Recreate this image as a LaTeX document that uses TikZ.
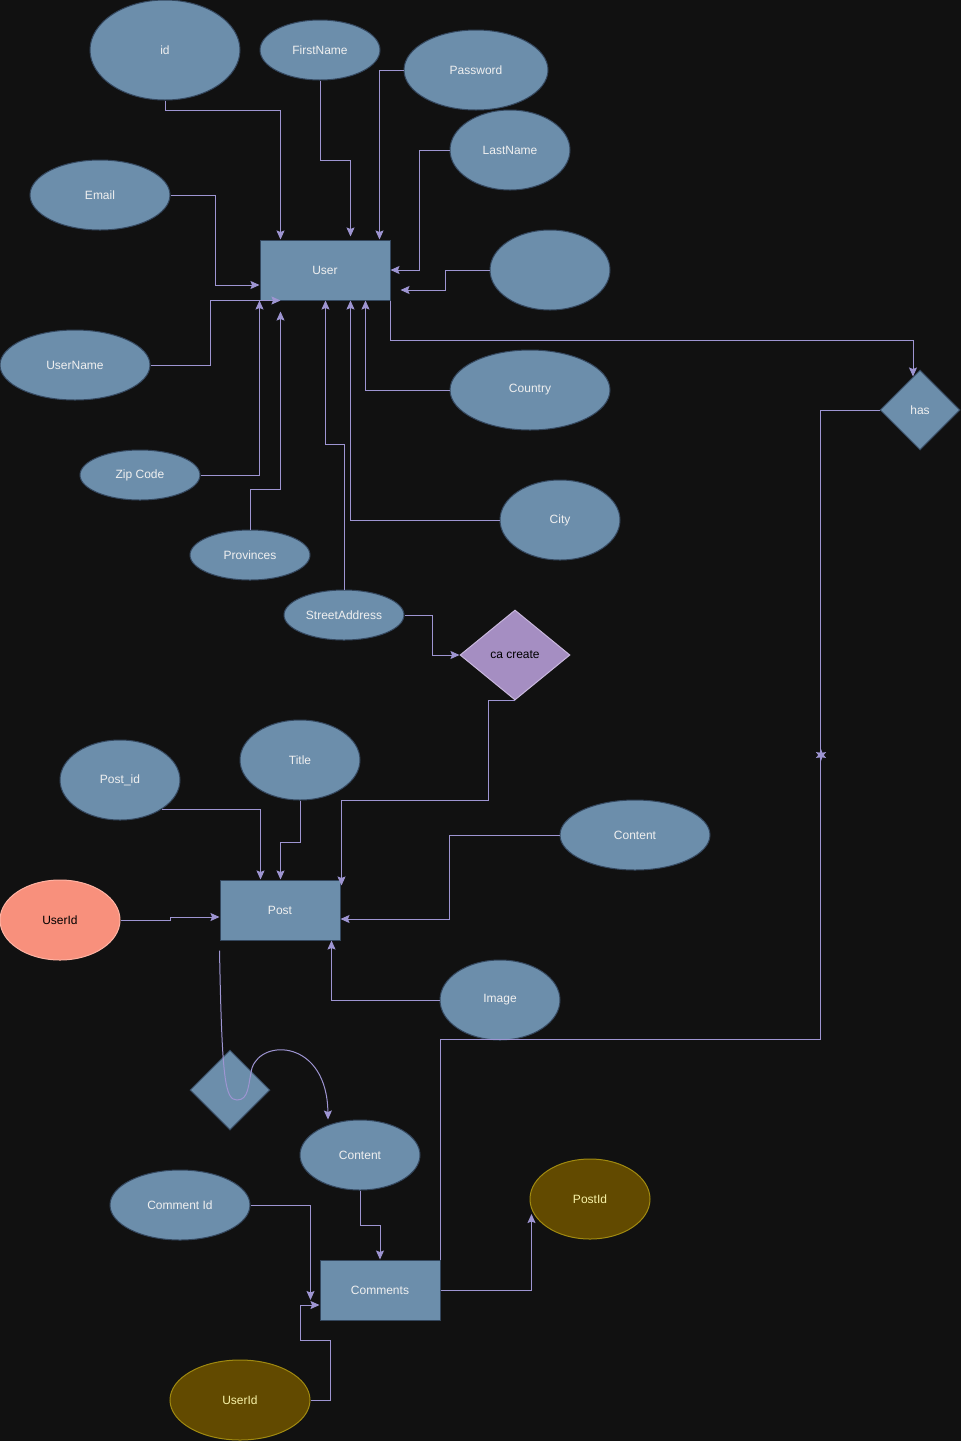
\documentclass[tikz,border=0pt]{standalone}
\usepackage{fontspec}
\setmainfont{Liberation Sans}
\usepackage{xcolor}
\usepackage{tikz}
\usetikzlibrary{arrows.meta, shapes.geometric, positioning, calc}

\definecolor{nennen}{HTML}{111111}
\definecolor{nenxanh}{HTML}{6C8EAB}
\definecolor{vienxanh}{HTML}{34475E}
\definecolor{chutrang}{HTML}{F0F0F0}
\definecolor{mautim}{HTML}{9E95D2}
\definecolor{nentim}{HTML}{A58EC2}
\definecolor{vientim}{HTML}{C9B8DE}
\definecolor{nencam}{HTML}{F8907C}
\definecolor{viencam}{HTML}{FFB3A3}
\definecolor{nenvang}{HTML}{624A00}
\definecolor{vienvang}{HTML}{A08A10}
\definecolor{chuvang}{HTML}{F8F3A8}

\tikzset{
    attr/.style={ellipse, draw=vienxanh, fill=nenxanh, text=chutrang, inner sep=0pt, line width=1pt},
    entity/.style={rectangle, draw=vienxanh, fill=nenxanh, text=chutrang, minimum height=60pt, line width=1pt},
    rel/.style={diamond, draw=vienxanh, fill=nenxanh, text=chutrang, inner sep=0pt, minimum width=80pt, minimum height=80pt, line width=1pt},
    conn/.style={draw=mautim, line width=1pt},
}

\begin{document}
\begin{tikzpicture}[x=1pt, y=-1pt, >={Stealth[length=9pt, width=8pt, inset=1.5pt]}, font=\fontsize{12}{14}\selectfont]
    % Nền tối
    \useasboundingbox[fill=nennen] (0,0) rectangle (961,1441);

    % Thực thể User và các thuộc tính
    \node[entity, minimum width=130pt] (user) at (325,270) {User};
    \node[attr, minimum width=150pt, minimum height=100pt] (id) at (165,50) {id};
    \node[attr, minimum width=120pt, minimum height=60pt] (fname) at (320,50) {FirstName};
    \node[attr, minimum width=144pt, minimum height=80pt] (pass) at (476,70) {Password};
    \node[attr, minimum width=120pt, minimum height=80pt] (lname) at (510,150) {LastName};
    \node[attr, minimum width=140pt, minimum height=70pt] (email) at (100,195) {Email};
    \node[attr, minimum width=120pt, minimum height=80pt] (blank) at (550,270) {};
    \node[attr, minimum width=150pt, minimum height=70pt] (uname) at (75,365) {UserName};
    \node[attr, minimum width=160pt, minimum height=80pt] (country) at (530,390) {Country};
    \node[attr, minimum width=120pt, minimum height=50pt] (zip) at (140,475) {Zip Code};
    \node[attr, minimum width=120pt, minimum height=80pt] (city) at (560,520) {City};
    \node[attr, minimum width=120pt, minimum height=50pt] (prov) at (250,555) {Provinces};
    \node[attr, minimum width=120pt, minimum height=50pt] (street) at (344,615) {StreetAddress};

    % Các quan hệ
    \node[rel] (has) at (920,410) {has};
    \node[rel, draw=vientim, fill=nentim, text=black, aspect=1.22, minimum width=110pt, minimum height=90pt] (cacreate) at (515,655) {ca create};
    \node[rel] (rel2) at (230,1090) {};

    % Thực thể Post và các thuộc tính
    \node[entity, minimum width=120pt] (post) at (280,910) {Post};
    \node[attr, minimum width=120pt, minimum height=80pt] (postid) at (120,780) {Post\_id};
    \node[attr, minimum width=120pt, minimum height=80pt] (title) at (300,760) {Title};
    \node[attr, minimum width=150pt, minimum height=70pt] (content) at (635,835) {Content};
    \node[attr, draw=viencam, fill=nencam, text=black, minimum width=120pt, minimum height=80pt] (userid) at (60,920) {UserId};
    \node[attr, minimum width=120pt, minimum height=80pt] (image) at (500,1000) {Image};

    % Thực thể Comments và các thuộc tính
    \node[entity, minimum width=120pt] (comments) at (380,1290) {Comments};
    \node[attr, minimum width=120pt, minimum height=70pt] (ccontent) at (360,1155) {Content};
    \node[attr, minimum width=140pt, minimum height=70pt] (commentid) at (180,1205) {Comment Id};
    \node[attr, draw=vienvang, fill=nenvang, text=chuvang, minimum width=120pt, minimum height=80pt] (cpostid) at (590,1199) {PostId};
    \node[attr, draw=vienvang, fill=nenvang, text=chuvang, minimum width=140pt, minimum height=80pt] (cuserid) at (240,1400) {UserId};

    % Nối thuộc tính vào User
    \draw[conn, ->] (id.south) -- ++(0,10) -| ([xshift=21pt]user.north west);
    \draw[conn, ->] (fname.south) -- ++(0,80) -| ([xshift=91pt, yshift=3pt]user.north west);
    \draw[conn, ->] (pass.west) -| ([xshift=120pt]user.north west);
    \draw[conn, ->] (lname.west) -- ++(-30,0) |- (user.east);
    \draw[conn, ->] (blank.west) -- ++(-44,0) |- ([xshift=10pt, yshift=-20pt]user.east);
    \draw[conn, ->] (email.east) -- ++(45,0) |- ([yshift=-15pt]user.west);
    \draw[conn, ->] (uname.east) -- ++(60,0) |- ([xshift=21pt]user.south west);
    \draw[conn, ->] (zip.east) -| (user.south west);
    \draw[conn, ->] (prov.north) -- ++(0,-40) -| ([xshift=21pt, yshift=-11pt]user.south west);
    \draw[conn, ->] (street.north) -- ++(0,-145) -| ([xshift=66pt]user.south west);
    \draw[conn, ->] (city.west) -| ([xshift=91pt]user.south west);
    \draw[conn, ->] (country.west) -| ([xshift=106pt]user.south west);

    % User -- has -- Comments
    \draw[conn, ->] (user.south east) -- ++(0,40) -| ([xshift=-7pt, yshift=-7pt]has.north);
    \draw[conn] (comments.north east) -- ++(0,-220) -| ([xshift=-59pt]has.west) -- (has.west);
    \node[star, star points=6, star point ratio=2.2, fill=mautim, inner sep=0pt, minimum size=12pt] (dau) at (821,755) {};

    % StreetAddress -- ca create -- Post
    \draw[conn, ->] (street.east) -- ++(28,0) |- (cacreate.west);
    \draw[conn, ->] (cacreate.south) -- ++(-27,0) -- ++(0,100) -| ([xshift=1pt, yshift=-6pt]post.north east);

    % Nối thuộc tính vào Post
    \draw[conn, ->] (postid.-35) -| ([xshift=41pt]post.north west);
    \draw[conn, ->] (title.south) -- ++(0,42) -| ([xshift=61pt]post.north west);
    \draw[conn, ->] (content.west) -- ++(-110,0) |- ([yshift=-9pt]post.east);
    \draw[conn, ->] (userid.east) -- ++(50,0) |- ([yshift=-7pt]post.west);
    \draw[conn, ->] (image.west) -| ([xshift=-9pt]post.south east);

    % Đường cong từ Post xuống Content
    \draw[conn, ->] ([yshift=-10pt]post.south west) .. controls (222,1080) and (225,1100) .. (237,1100)
        .. controls (249,1100) and (248,1085) .. (252,1068)
        .. controls (262,1038) and (327,1040) .. ([xshift=-32pt]ccontent.north);

    % Nối thuộc tính vào Comments
    \draw[conn, ->] (ccontent.south) -- ++(0,35) -| (comments.north);
    \draw[conn, ->] (commentid.east) -| ([xshift=-9pt, yshift=-10pt]comments.west);
    \draw[conn, ->] (cuserid.east) -- ++(20,0) -- ++(0,-60) -- ++(-30,0) |- ([yshift=-15pt]comments.west);
    \draw[conn, ->] (comments.east) -| ([xshift=2pt, yshift=-15pt]cpostid.west);
\end{tikzpicture}
\end{document}
